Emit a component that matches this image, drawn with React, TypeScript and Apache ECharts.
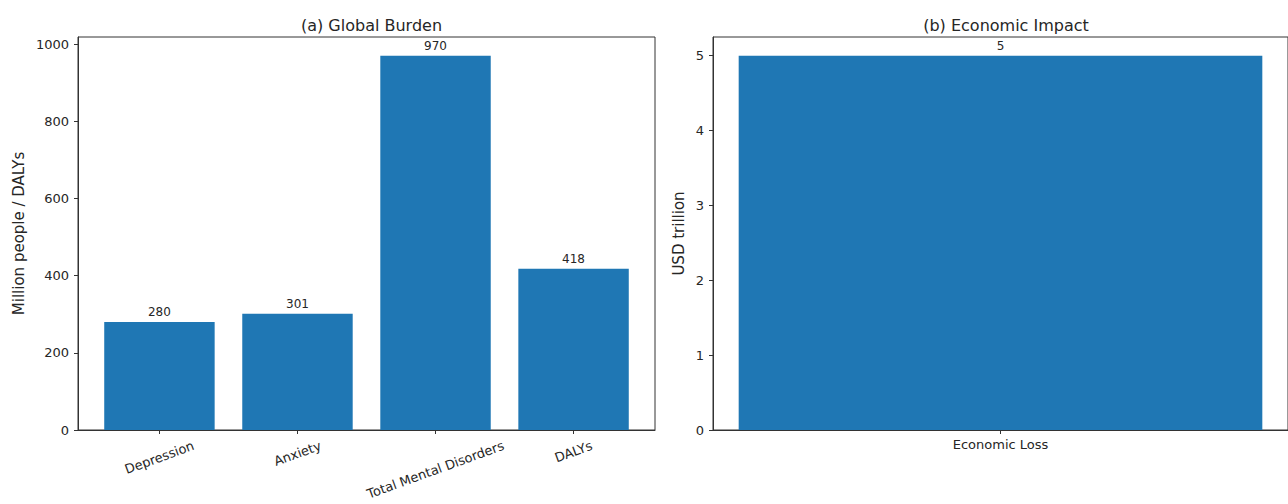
import React, { useEffect, useRef } from 'react';
import * as echarts from 'echarts';

const burdenCategories = ['Depression', 'Anxiety', 'Total Mental Disorders', 'DALYs'];
const burdenValues = [280, 301, 970, 418];
const burdenTicks = [0, 200, 400, 600, 800, 1000];

const economicCategories = ['Economic Loss'];
const economicValues = [5];
const economicTicks = [0, 1, 2, 3, 4, 5];

const FONT = 'DejaVu Sans';
const BLUE = '#1f77b4';
const INK = '#262626';
const SPINE = '#333333';

function measure(text: string, size: number): number {
  const ctx = document.createElement('canvas').getContext('2d');
  if (!ctx) return text.length * size * 0.6;
  ctx.font = `${size}px "DejaVu Sans"`;
  return ctx.measureText(text).width;
}

export default function App() {
  const ref = useRef<HTMLDivElement>(null);

  useEffect(() => {
    document.body.style.margin = '0';
    if (!ref.current) return;
    const chart = echarts.init(ref.current, null, { renderer: 'svg' });

    // layout of the two panels (pixels)
    const L = { left: 78, top: 37, width: 577, height: 393 };
    const R = { left: 713, top: 37, width: 576, height: 393 };

    // x extents like matplotlib (bar width 0.8, 5% margins)
    const lMin = -0.4 - 0.05 * (burdenCategories.length - 1 + 0.8);
    const lMax = burdenCategories.length - 1 + 0.4 + 0.05 * (burdenCategories.length - 1 + 0.8);
    const rMin = -0.4 - 0.05 * 0.8;
    const rMax = 0.4 + 0.05 * 0.8;
    const lBarW = (0.8 * L.width) / (lMax - lMin);
    const rBarW = (0.8 * R.width) / (rMax - rMin);

    const lYMax = Math.max(...burdenValues) * 1.05;
    const rYMax = Math.max(...economicValues) * 1.05;

    // rotated tick labels, centred under tick like matplotlib
    const ROT = 20;
    const rad = (ROT * Math.PI) / 180;
    const tickFont = 13;
    const lineH = 15;
    const rich: Record<string, any> = {};
    burdenCategories.forEach((c, i) => {
      const w = measure(c, tickFont);
      const D = 8 + (w * Math.sin(rad) + lineH * Math.cos(rad)) / 2;
      rich['c' + i] = {
        fontSize: tickFont,
        fontFamily: FONT,
        color: INK,
        lineHeight: lineH,
        padding: [2 * D * Math.cos(rad), 2 * D * Math.sin(rad), 0, 0],
      };
    });

    const yAxisCommon = {
      type: 'value',
      splitLine: { show: false },
      axisLine: { show: true, onZero: false, lineStyle: { color: SPINE, width: 1 } },
      axisTick: { show: true, length: 4, lineStyle: { color: SPINE } },
      nameLocation: 'middle',
      nameTextStyle: { fontFamily: FONT, fontSize: 15, color: INK },
    };

    const option: any = {
      animation: false,
      textStyle: { fontFamily: FONT },
      title: [
        {
          text: '(a) Global Burden',
          left: L.left + L.width / 2,
          top: 12,
          textAlign: 'center',
          textStyle: { fontFamily: FONT, fontSize: 16, fontWeight: 'normal', color: INK },
        },
        {
          text: '(b) Economic Impact',
          left: R.left + R.width / 2,
          top: 12,
          textAlign: 'center',
          textStyle: { fontFamily: FONT, fontSize: 16, fontWeight: 'normal', color: INK },
        },
      ],
      grid: [
        { ...L, show: true, borderColor: SPINE, borderWidth: 1, backgroundColor: 'transparent' },
        { ...R, show: true, borderColor: SPINE, borderWidth: 1, backgroundColor: 'transparent' },
      ],
      xAxis: [
        {
          type: 'value',
          gridIndex: 0,
          min: lMin,
          max: lMax,
          splitLine: { show: false },
          axisLine: { show: true, onZero: false, lineStyle: { color: SPINE } },
          axisTick: {
            show: true,
            length: 4,
            lineStyle: { color: SPINE },
            customValues: burdenCategories.map((_, i) => i),
          },
          axisLabel: {
            rotate: ROT,
            align: 'center',
            verticalAlign: 'middle',
            margin: 0,
            customValues: burdenCategories.map((_, i) => i),
            formatter: (v: number) => {
              const i = Math.round(v);
              return burdenCategories[i] ? `{c${i}|${burdenCategories[i]}}` : '';
            },
            rich,
          },
        },
        {
          type: 'value',
          gridIndex: 1,
          min: rMin,
          max: rMax,
          splitLine: { show: false },
          axisLine: { show: true, onZero: false, lineStyle: { color: SPINE } },
          axisTick: {
            show: true,
            length: 4,
            lineStyle: { color: SPINE },
            customValues: economicCategories.map((_, i) => i),
          },
          axisLabel: {
            margin: 8,
            fontFamily: FONT,
            fontSize: tickFont,
            color: INK,
            customValues: economicCategories.map((_, i) => i),
            formatter: (v: number) => economicCategories[Math.round(v)] ?? '',
          },
        },
      ],
      yAxis: [
        {
          ...yAxisCommon,
          gridIndex: 0,
          min: 0,
          max: lYMax,
          name: 'Million people / DALYs',
          nameGap: 52,
          axisTick: { ...yAxisCommon.axisTick, customValues: burdenTicks },
          axisLabel: {
            margin: 9,
            fontFamily: FONT,
            fontSize: tickFont,
            color: INK,
            customValues: burdenTicks,
            formatter: (v: number) => String(v),
          },
        },
        {
          ...yAxisCommon,
          gridIndex: 1,
          min: 0,
          max: rYMax,
          name: 'USD trillion',
          nameGap: 27,
          axisTick: { ...yAxisCommon.axisTick, customValues: economicTicks },
          axisLabel: {
            margin: 9,
            fontFamily: FONT,
            fontSize: tickFont,
            color: INK,
            customValues: economicTicks,
            formatter: (v: number) => String(v),
          },
        },
      ],
      series: [
        {
          type: 'bar',
          xAxisIndex: 0,
          yAxisIndex: 0,
          barWidth: lBarW,
          data: burdenValues.map((v, i) => [i, v]),
          itemStyle: { color: BLUE },
          label: {
            show: true,
            position: 'top',
            distance: 4,
            fontFamily: FONT,
            fontSize: 12,
            color: INK,
            formatter: (p: any) => String(p.value[1]),
          },
        },
        {
          type: 'bar',
          xAxisIndex: 1,
          yAxisIndex: 1,
          barWidth: rBarW,
          data: economicValues.map((v, i) => [i, v]),
          itemStyle: { color: BLUE },
          label: {
            show: true,
            position: 'top',
            distance: 4,
            fontFamily: FONT,
            fontSize: 12,
            color: INK,
            formatter: (p: any) => String(p.value[1]),
          },
        },
      ],
    };

    chart.setOption(option);
    return () => chart.dispose();
  }, []);

  return <div ref={ref} style={{ width: 1288, height: 504 }} />;
}
